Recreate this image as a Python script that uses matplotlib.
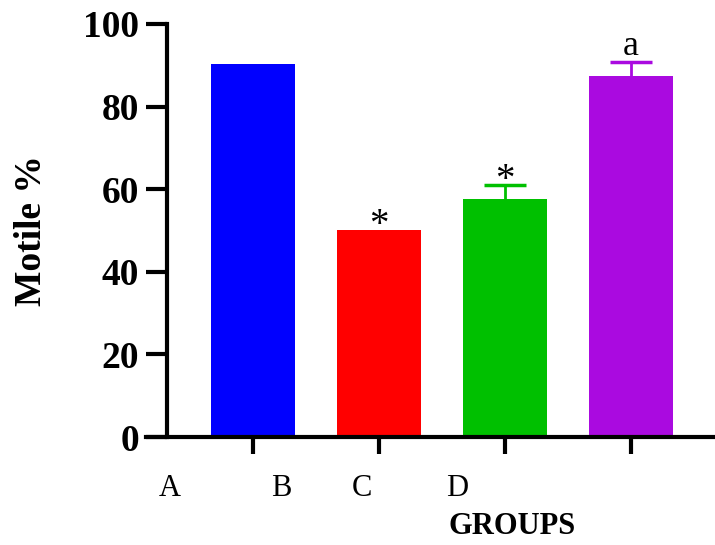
import matplotlib.pyplot as plt
import numpy as np

# group data
groups = ['A', 'B', 'C', 'D']
motile = [90.2, 50.1, 57.6, 87.4]
err = [0.0, 0.0, 3.5, 3.4]
marks = ['', '*', '*', 'a']
colors = ['#0000FF', '#FF0000', '#00C000', '#AA0AE0']

plt.rcParams['font.family'] = 'Liberation Serif'

fig = plt.figure(figsize=(7.15, 5.45), dpi=100)
ax = fig.add_axes([0.2336, 0.198, 0.7664, 0.758])

x = np.arange(len(motile))
ax.bar(x, motile, width=0.667, color=colors, zorder=2)
for i in range(len(motile)):
    if err[i] > 0:
        # symmetric bar, lower half is hidden behind the column
        ax.errorbar(x[i], motile[i], yerr=err[i], fmt='none',
                    ecolor=colors[i], elinewidth=2, capsize=15, capthick=2.5, zorder=1)
    top = motile[i] + err[i]
    if marks[i] == '*':
        ax.text(x[i], top + 1.0, marks[i], ha='center', va='center', fontsize=28, zorder=3)
    elif marks[i]:
        ax.text(x[i], top + 1.7, marks[i], ha='center', va='baseline', fontsize=26)

ax.set_xlim(-0.68, 3.67)
ax.set_ylim(0, 100)
ax.set_yticks([0, 20, 40, 60, 80, 100])
ax.set_xticks(x)
ax.set_xticklabels([])
for lbl in ax.get_yticklabels():
    lbl.set_fontweight('bold')
ax.tick_params(axis='y', labelsize=27, length=15, width=3, pad=5)
ax.tick_params(axis='x', length=12, width=3)
ax.spines['top'].set_visible(False)
ax.spines['right'].set_visible(False)
ax.spines['left'].set_linewidth(3)
ax.spines['bottom'].set_linewidth(3)
ax.spines['bottom'].set_bounds(-0.85, 3.67)

ax.set_ylabel('Motile %', fontsize=27, fontweight='bold')
ax.yaxis.set_label_coords(-0.215, 0.5)

# group letters sit under the axis, not under the bars
label_x = [170, 281, 362, 457]
for lx, g in zip(label_x, groups):
    fig.text(lx / 715, 1 - 488 / 545, g, ha='center', va='center', fontsize=22)
fig.text(512 / 715, 1 - 527 / 545, 'GROUPS', ha='center', va='center',
         fontsize=22, fontweight='bold')

plt.savefig('out.png', dpi=100)
